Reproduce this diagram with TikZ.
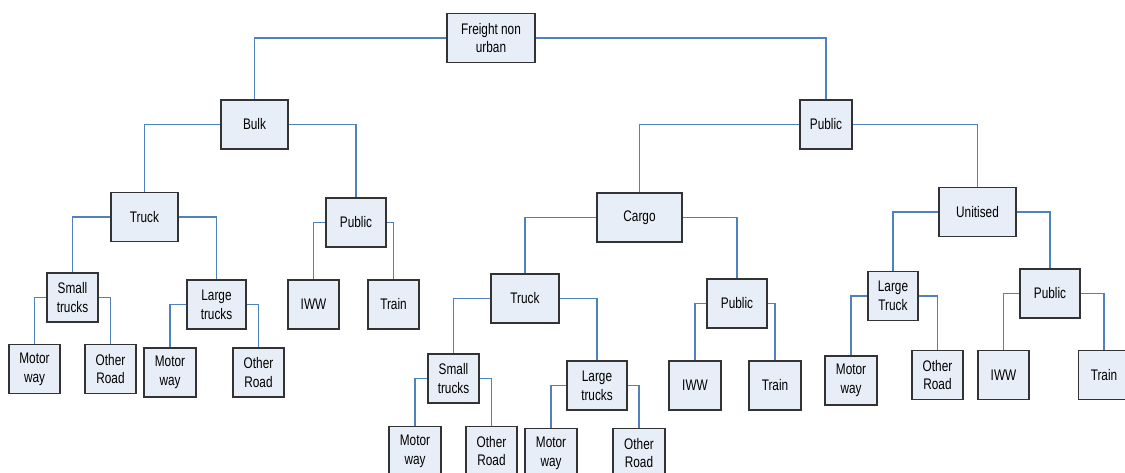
\documentclass[tikz,border=0pt]{standalone}
\usepackage{fontspec}
\newfontfamily\boxfont[FakeStretch=0.77]{Liberation Sans}
\usepackage{tikz}
\usetikzlibrary{positioning}
\definecolor{boxfill}{RGB}{232,238,247}
\definecolor{linkblue}{RGB}{79,129,189}

\begin{document}
\begin{tikzpicture}[x=0.75pt, y=-0.75pt]
		\tikzset{
			box/.style={draw=black!80, line width=0.9pt, fill=boxfill, inner sep=1pt, align=center,
				minimum width=38.25pt, minimum height=36.75pt, font={\boxfont\fontsize{11.5}{14}\selectfont}},
			bw/.style={minimum width=#1*0.75pt},
			link/.style={draw=linkblue, line width=0.85pt},
		}
		\useasboundingbox (0,0) rectangle (1125,472);
		% top levels
		\node[box, bw=88] (F) at (491,38) {Freight non\\urban};
		\node[box, bw=67] (bulk) at (254.5,124.5) {Bulk};
		\node[box, bw=52] (pubT) at (826,124.5) {Public};
		% bulk branch
		\node[box, bw=67] (truckB) at (144.5,217) {Truck};
		\node[box, bw=60] (pubB) at (356,222.5) {Public};
		\node[box] (smallB) at (72.5,297.5) {Small\\trucks};
		\node[box, bw=59] (largeB) at (216.5,304.5) {Large\\trucks};
		\node[box] (iwwB) at (313.5,304.5) {IWW};
		\node[box] (trainB) at (393.5,304.5) {Train};
		\node[box] (mwB1) at (34.5,369) {Motor\\way};
		\node[box] (orB1) at (110.5,369) {Other\\Road};
		\node[box, bw=52] (mwB2) at (170,372.5) {Motor\\way};
		\node[box] (orB2) at (258.5,372.5) {Other\\Road};
		% cargo branch
		\node[box, bw=85] (cargo) at (639.5,217.5) {Cargo};
		\node[box, bw=68] (truckC) at (525,298.5) {Truck};
		\node[box, bw=60] (pubC) at (737,303.5) {Public};
		\node[box] (smallC) at (453.5,378.5) {Small\\trucks};
		\node[box, bw=60] (largeC) at (597,385.5) {Large\\trucks};
		\node[box, bw=52] (iwwC) at (695,385.5) {IWW};
		\node[box, bw=52] (trainC) at (775,385.5) {Train};
		\node[box, bw=52] (mwC1) at (415,451) {Motor\\way};
		\node[box] (orC1) at (491.5,451) {Other\\Road};
		\node[box, bw=52] (mwC2) at (551,453) {Motor\\way};
		\node[box, bw=52] (orC2) at (639,453) {Other\\Road};
		% unitised branch
		\node[box, bw=77] (unit) at (977.5,212) {Unitised};
		\node[box, bw=50] (largeU) at (893,296) {Large\\Truck};
		\node[box, bw=60] (pubU) at (1050,293.5) {Public};
		\node[box, bw=52] (mwU) at (851,380.5) {Motor\\way};
		\node[box] (orU) at (937.5,375) {Other\\Road};
		\node[box] (iwwU) at (1003.5,375) {IWW};
		\node[box] (trainU) at (1104,375) {Train};
		
		\draw[link] (F) -| (bulk);
		\draw[link] (F) -| (pubT);
		\draw[link] (bulk) -| (truckB);
		\draw[link] (bulk) -| (pubB);
		\draw[link] (truckB) -| (smallB);
		\draw[link] (truckB) -| (largeB);
		\draw[link] (pubB) -| (iwwB);
		\draw[link] (pubB) -| (trainB);
		\draw[link] (smallB) -| (mwB1);
		\draw[link] (smallB) -| (orB1);
		\draw[link] (largeB) -| (mwB2);
		\draw[link] (largeB) -| (orB2);
		\draw[link] (pubT) -| (cargo);
		\draw[link] (pubT) -| (unit);
		\draw[link] (cargo) -| (truckC);
		\draw[link] (cargo) -| (pubC);
		\draw[link] (truckC) -| (smallC);
		\draw[link] (truckC) -| (largeC);
		\draw[link] (pubC) -| (iwwC);
		\draw[link] (pubC) -| (trainC);
		\draw[link] (smallC) -| (mwC1);
		\draw[link] (smallC) -| (orC1);
		\draw[link] (largeC) -| (mwC2);
		\draw[link] (largeC) -| (orC2);
		\draw[link] (unit) -| (largeU);
		\draw[link] (unit) -| (pubU);
		\draw[link] (largeU) -| (mwU);
		\draw[link] (largeU) -| (orU);
		\draw[link] (pubU) -| (iwwU);
		\draw[link] (pubU) -| (trainU);
	\end{tikzpicture}
\end{document}
